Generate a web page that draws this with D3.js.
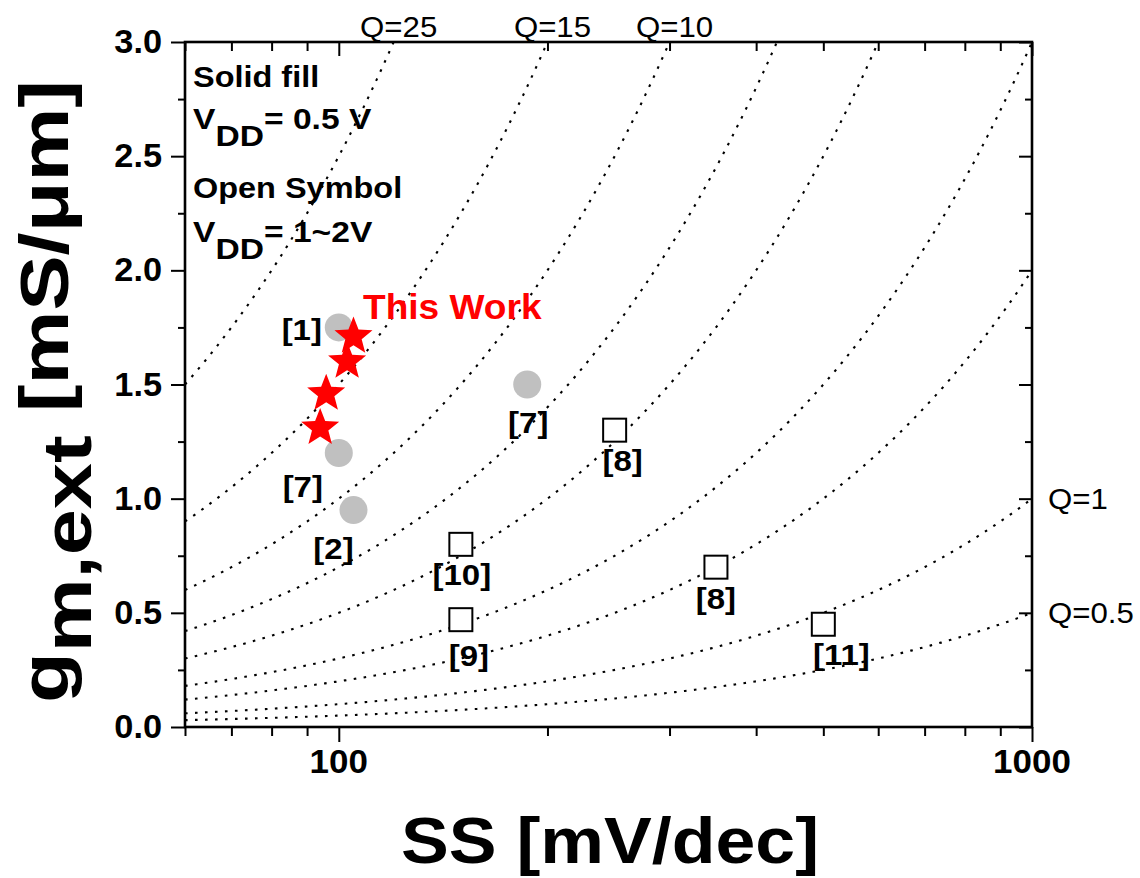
<!DOCTYPE html>
<html>
<head>
<meta charset="utf-8">
<script src="https://cdn.jsdelivr.net/npm/d3@7"></script>
<style>
  html, body { margin: 0; padding: 0; background: #fff; }
  svg { display: block; font-family: Arial, "Liberation Sans", sans-serif; }
</style>
</head>
<body>
<svg id="chart" width="1140" height="878"></svg>
<script>
// ---------------- data ----------------
const xMajorTicks = [100, 1000];
const xMinorTicks = [60, 70, 80, 90, 200, 300, 400, 500, 600, 700, 800, 900];
const yMajorTicks = [0, 0.5, 1.0, 1.5, 2.0, 2.5, 3.0];
const yMinorTicks = [0.25, 0.75, 1.25, 1.75, 2.25, 2.75];

const qValues = [0.5, 1, 2, 3, 5, 7, 10, 15, 25];
const qTopLabeled = [25, 15, 10];
const qRightLabeled = [1, 0.5];

// solid fill (VDD = 0.5 V), gray circles
const solidRefs = ["[1]", "[7]", "[2]", "[7]"];
const solidSS = [100, 100, 105, 187];
const solidGm = [1.75, 1.20, 0.95, 1.50];

// This Work (red stars)
const starSS = [105, 102.8, 95.9, 94];
const starGm = [1.71, 1.60, 1.46, 1.31];

// open symbol (VDD = 1~2 V), open squares
const openRefs = ["[8]", "[10]", "[9]", "[8]", "[11]"];
const openSS = [250, 150, 150, 350, 500];
const openGm = [1.30, 0.80, 0.47, 0.70, 0.45];

// label placement (layout only, px offsets from marker)
const solidLabelOffset = [[-37, 13], [-36, 44], [-20, 49], [1, 48]];
const openLabelOffset = [[8, 41], [1, 41], [8, 46], [0, 42], [18, 41]];

// ---------------- layout ----------------
const svg = d3.select("#chart");
const X0 = 185, X1 = 1032, Y0 = 42, Y1 = 727;
const x = d3.scaleLog().domain([60, 1000]).range([X0, X1]);
const y = d3.scaleLinear().domain([0, 3]).range([Y1, Y0]);
const FONT = 'Arial, "Liberation Sans", sans-serif';

svg.append("defs").append("clipPath").attr("id", "plotClip")
  .append("rect").attr("x", X0).attr("y", Y0).attr("width", X1 - X0).attr("height", Y1 - Y0);

// ---------------- Q iso-lines (gm = Q * SS / 1000) ----------------
const curveG = svg.append("g").attr("clip-path", "url(#plotClip)");
const px = d3.range(X0, X1 + 0.5, 2);
const line = d3.line().x(d => x(d[0])).y(d => y(d[1]));
qValues.forEach(q => {
  const pts = px.map(p => { const ss = x.invert(p); return [ss, q * ss / 1000]; });
  curveG.append("path").attr("d", line(pts))
    .attr("fill", "none").attr("stroke", "#000").attr("stroke-width", 2.1)
    .attr("stroke-dasharray", "2.6,7.4");
});

// ---------------- axes ----------------
function styleAxis(g) {
  g.selectAll(".domain").remove();
  g.selectAll(".tick line").attr("stroke", "#000").attr("stroke-width", 2);
  g.selectAll("text").remove();
}
svg.append("g").attr("transform", `translate(0,${Y1})`)
  .call(d3.axisBottom(x).tickValues(xMinorTicks).tickSize(9).tickSizeOuter(0)).call(styleAxis);
svg.append("g").attr("transform", `translate(0,${Y1})`)
  .call(d3.axisBottom(x).tickValues(xMajorTicks).tickSize(15).tickSizeOuter(0)).call(styleAxis);
svg.append("g").attr("transform", `translate(0,${Y0})`)
  .call(d3.axisTop(x).tickValues(xMinorTicks).tickSize(-9).tickSizeOuter(0)).call(styleAxis);
svg.append("g").attr("transform", `translate(0,${Y0})`)
  .call(d3.axisTop(x).tickValues(xMajorTicks).tickSize(-14).tickSizeOuter(0)).call(styleAxis);
svg.append("g").attr("transform", `translate(${X0},0)`)
  .call(d3.axisLeft(y).tickValues(yMinorTicks).tickSize(7).tickSizeOuter(0)).call(styleAxis);
svg.append("g").attr("transform", `translate(${X0},0)`)
  .call(d3.axisLeft(y).tickValues(yMajorTicks).tickSize(14).tickSizeOuter(0)).call(styleAxis);
svg.append("g").attr("transform", `translate(${X1},0)`)
  .call(d3.axisRight(y).tickValues(yMinorTicks).tickSize(-7).tickSizeOuter(0)).call(styleAxis);
svg.append("g").attr("transform", `translate(${X1},0)`)
  .call(d3.axisRight(y).tickValues(yMajorTicks).tickSize(-13).tickSizeOuter(0)).call(styleAxis);

svg.append("rect").attr("x", X0).attr("y", Y0).attr("width", X1 - X0).attr("height", Y1 - Y0)
  .attr("fill", "none").attr("stroke", "#000").attr("stroke-width", 2.6);

function txt(str, xp, yp, opt) {
  return svg.append("text")
    .attr("font-family", FONT)
    .attr("font-size", opt.size)
    .attr("font-weight", opt.weight || "bold")
    .attr("fill", opt.fill || "#000")
    .attr("text-anchor", opt.anchor || "start")
    .attr("transform", `translate(${xp},${yp}) scale(${opt.sx || 1},1)`)
    .text(str);
}
yMajorTicks.forEach(v => txt(d3.format(".1f")(v), 162, y(v) + 11, {size: 33, anchor: "end", sx: 1.04}));
xMajorTicks.forEach(v => txt(String(v), x(v), 773, {size: 33, anchor: "middle", sx: 1.06}));

// axis titles
txt("SS [mV/dec]", 610, 863, {size: 64, anchor: "middle", sx: 1.12});

const yt = svg.append("text")
  .attr("font-family", FONT).attr("font-weight", "bold").attr("font-size", 68)
  .attr("transform", `translate(68,703) rotate(-90)`)
  .attr("textLength", 623).attr("lengthAdjust", "spacingAndGlyphs");
yt.append("tspan").text("g");
yt.append("tspan").attr("dy", 23).text("m,ext");
yt.append("tspan").attr("dy", -23).text(" [mS/\u03BCm]");

// Q labels
qTopLabeled.forEach(q => {
  const ssHit = 3.0 * 1000 / q;
  txt("Q=" + q, x(ssHit) + 5, 37, {size: 30, weight: "normal", anchor: "middle", sx: 1.04});
});
qRightLabeled.forEach(q => {
  txt("Q=" + q, 1048, y(q) + 10, {size: 30, weight: "normal", anchor: "start", sx: 1.04});
});

// annotations
txt("Solid fill", 193, 87, {size: 29, sx: 1.12});
{
  const t = txt("", 193, 129, {size: 30, sx: 1.12});
  t.append("tspan").text("V");
  t.append("tspan").attr("dy", 17).text("DD");
  t.append("tspan").attr("dy", -17).text("= 0.5 V");
}
txt("Open Symbol", 193, 198, {size: 29, sx: 1.12});
{
  const t = txt("", 193, 242, {size: 30, sx: 1.12});
  t.append("tspan").text("V");
  t.append("tspan").attr("dy", 17).text("DD");
  t.append("tspan").attr("dy", -17).text("= 1~2V");
}
txt("This Work", 363, 319, {size: 35, fill: "#ff0000", sx: 1.06});

// ---------------- markers ----------------
svg.append("g").selectAll("circle").data(d3.range(solidSS.length)).join("circle")
  .attr("cx", i => x(solidSS[i])).attr("cy", i => y(solidGm[i])).attr("r", 14)
  .attr("fill", "#c0c0c0");

const SQ = 23;
svg.append("g").selectAll("rect").data(d3.range(openSS.length)).join("rect")
  .attr("x", i => x(openSS[i]) - SQ / 2).attr("y", i => y(openGm[i]) - SQ / 2)
  .attr("width", SQ).attr("height", SQ)
  .attr("fill", "#fff").attr("stroke", "#000").attr("stroke-width", 2);

// five-pointed star outline
const R_OUT = 20, R_IN = 8.6;
const starPts = d3.range(10).map(k => [k * Math.PI / 5, k % 2 === 0 ? R_OUT : R_IN]);
const starPath = d3.lineRadial().curve(d3.curveLinearClosed)(starPts);
svg.append("g").selectAll("path").data(d3.range(starSS.length)).join("path")
  .attr("d", starPath)
  .attr("transform", i => `translate(${x(starSS[i])},${y(starGm[i])})`)
  .attr("fill", "#ff0000");

// reference labels
solidRefs.forEach((r, i) => {
  const o = solidLabelOffset[i];
  txt(r, x(solidSS[i]) + o[0], y(solidGm[i]) + o[1], {size: 30, anchor: "middle", sx: 1.1});
});
openRefs.forEach((r, i) => {
  const o = openLabelOffset[i];
  txt(r, x(openSS[i]) + o[0], y(openGm[i]) + o[1], {size: 30, anchor: "middle", sx: 1.1});
});
</script>
</body>
</html>
